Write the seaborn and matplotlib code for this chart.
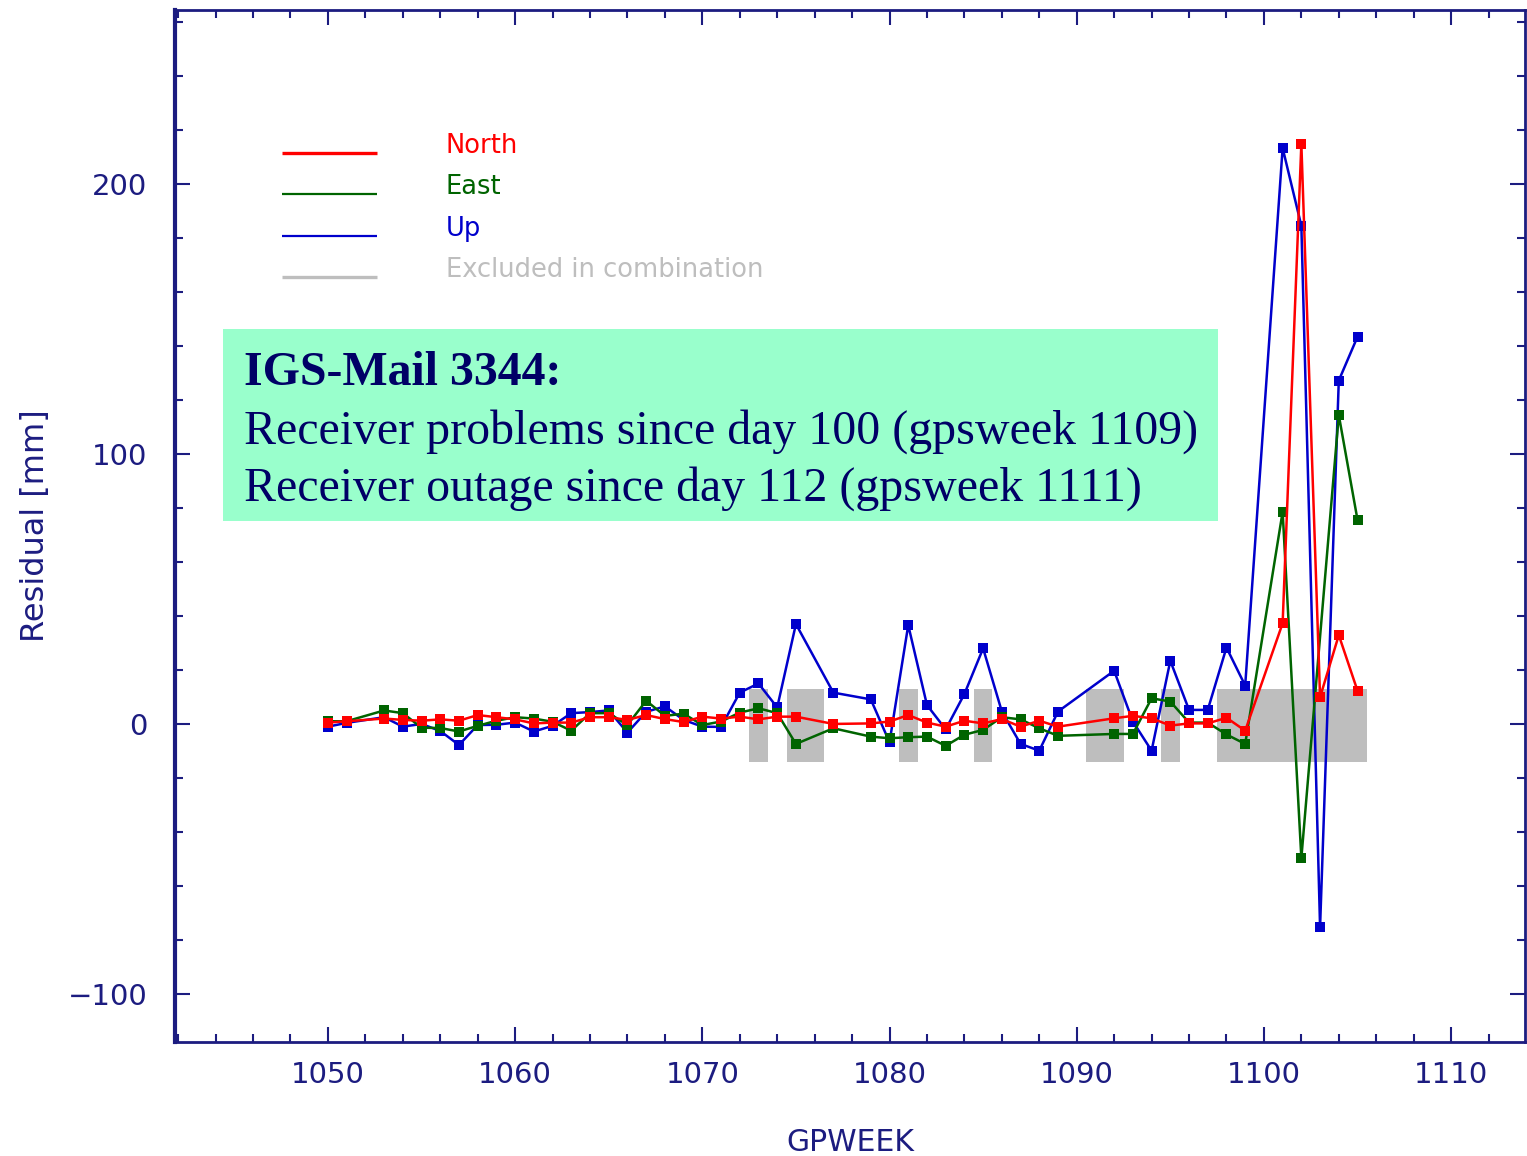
import matplotlib
matplotlib.use('Agg')
import matplotlib.pyplot as plt
from matplotlib.patches import Rectangle
from matplotlib.ticker import MultipleLocator
import seaborn as sns
import pandas as pd

# residual time series per GPS week (mm)
weeks = [1050, 1051, 1053, 1054, 1055, 1056, 1057, 1058, 1059, 1060,
         1061, 1062, 1063, 1064, 1065, 1066, 1067, 1068, 1069, 1070,
         1071, 1072, 1073, 1074, 1075, 1077, 1079, 1080, 1081, 1082,
         1083, 1084, 1085, 1086, 1087, 1088, 1089, 1092, 1093, 1094,
         1095, 1096, 1097, 1098, 1099, 1101, 1102, 1103, 1104, 1105]
north = [0.5, 1.0, 2.0, 1.5, 1.2, 1.7, 1.2, 3.3, 2.5, 1.7,
         0.2, 0.5, 0.5, 2.5, 2.5, 1.5, 3.3, 1.8, 0.7, 2.7,
         2.0, 2.7, 1.7, 2.7, 2.7, 0.0, 0.2, 0.9, 3.3, 0.5,
         -1.0, 1.2, 0.2, 1.8, -1.0, 1.2, -1.0, 2.1, 3.0, 2.1,
         -0.6, 0.2, 0.2, 2.3, -2.5, 37.3, 214.8, 9.9, 32.9, 12.3]
east = [1.0, 1.0, 5.0, 4.0, -1.4, -1.5, -2.8, -0.7, 1.2, 2.5,
        2.0, 0.8, -2.5, 4.0, 4.0, -0.4, 8.6, 3.0, 3.8, -0.4,
        0.9, 4.2, 5.8, 4.0, -7.4, -1.6, -4.7, -5.3, -4.9, -4.7,
        -8.1, -4.0, -2.2, 2.5, 1.7, -1.6, -4.4, -3.7, -3.7, 9.5,
        8.3, 0.5, 0.5, -3.9, -7.4, 78.6, -49.7, None, 114.4, 75.6]
up = [-1.0, 0.4, 2.5, -1.0, 0.0, -2.6, -7.8, -0.4, -0.3, 0.5,
      -2.8, -0.7, 4.0, 4.4, 5.0, -3.2, 4.5, 6.5, 1.5, -1.0,
      -1.1, 11.6, 15.0, 6.1, 37.0, 11.6, 9.1, -6.8, 36.6, 7.0,
      -2.0, 11.1, 28.0, 4.6, -7.4, -9.9, 4.6, 19.7, 0.9, -9.9,
      23.4, 5.2, 5.2, 28.3, 14.2, 213.3, 184.5, -75.3, 127.2, 143.4]

# weeks excluded in the combination
excluded_start = [1072.5, 1074.5, 1080.5, 1084.5, 1090.5, 1094.5, 1097.5]
excluded_end = [1073.5, 1076.5, 1081.5, 1085.5, 1092.5, 1095.5, 1105.5]

legend_labels = ['North', 'East', 'Up', 'Excluded in combination']
note_title = 'IGS-Mail 3344:'
note_lines = ['Receiver problems since day 100 (gpsweek 1109)',
              'Receiver outage since day 112 (gpsweek 1111)']

navy = '#1c1c80'
colors = {'North': '#ff0000', 'East': '#006400', 'Up': '#0000cc'}
gray = '#bebebe'

sns.set_style('ticks')
plt.rcParams['font.family'] = ['DejaVu Sans']

fig = plt.figure(figsize=(15.27, 11.56), dpi=100)
ax = fig.add_axes([0.1146, 0.0986, 0.884, 0.8927])

df = pd.DataFrame({'GPWEEK': weeks, 'North': north, 'East': east, 'Up': up})
long = df.melt(id_vars='GPWEEK', var_name='component', value_name='residual')
long = long.dropna()

# grey boxes for excluded weeks
widths = [e - s for s, e in zip(excluded_start, excluded_end)]
ax.bar(excluded_start, 27, width=widths, bottom=-14, align='edge',
       color=gray, zorder=1, linewidth=0)

sns.lineplot(data=long, x='GPWEEK', y='residual', hue='component',
             hue_order=['Up', 'East', 'North'], palette=colors,
             marker='s', markersize=7, markeredgewidth=0, linewidth=1.8,
             estimator=None, legend=False, ax=ax, zorder=3)

ax.set_xlim(1041.83, 1113.94)
ax.set_ylim(-117.8, 264.4)
ax.xaxis.set_major_locator(MultipleLocator(10))
ax.xaxis.set_minor_locator(MultipleLocator(2))
ax.yaxis.set_major_locator(MultipleLocator(100))
ax.yaxis.set_minor_locator(MultipleLocator(20))
ax.tick_params(which='both', direction='in', top=True, right=True,
               color=navy, width=1.5, labelsize=21, labelcolor=navy)
ax.tick_params(which='major', length=11)
ax.tick_params(which='minor', length=5.5)
ax.tick_params(axis='y', pad=20)
ax.tick_params(axis='x', pad=14)
for side, sp in ax.spines.items():
    sp.set_color(navy)
    sp.set_linewidth(3 if side == 'left' else 2)

ax.set_xlabel('GPWEEK', fontsize=21.5, color=navy, labelpad=28)
ax.set_ylabel('Residual [mm]', fontsize=23, color=navy, labelpad=12)

# legend drawn by hand, as in the original
legend_colors = [colors['North'], colors['East'], colors['Up'], gray]
legend_widths = [2.4, 1.6, 1.6, 2.4]
legend_y = [0.861, 0.822, 0.781, 0.741]
for lab, col, lw, yy in zip(legend_labels, legend_colors, legend_widths, legend_y):
    ax.plot([0.079, 0.150], [yy, yy], color=col, lw=lw, transform=ax.transAxes,
            solid_capstyle='butt')
    ax.text(0.2004, yy + 0.007, lab, color=col, fontsize=18.5,
            transform=ax.transAxes, va='center', ha='left')

# note box
ax.add_patch(Rectangle((0.0355, 0.5048), 0.7375, 0.1861, transform=ax.transAxes,
                       facecolor='#99ffcc', edgecolor='none', zorder=2))
serif = ['Liberation Serif', 'DejaVu Serif']
ax.text(0.051, 0.648, note_title, family=serif, fontsize=34.5, fontweight='bold',
        color='#000066', transform=ax.transAxes, va='center', ha='left', zorder=4)
for i, line in enumerate(note_lines):
    ax.text(0.051, 0.592 - i * 0.056, line, family=serif, fontsize=34.5,
            color='#000066', transform=ax.transAxes, va='center', ha='left', zorder=4)

fig.savefig('out.png', dpi=100, facecolor='white')
